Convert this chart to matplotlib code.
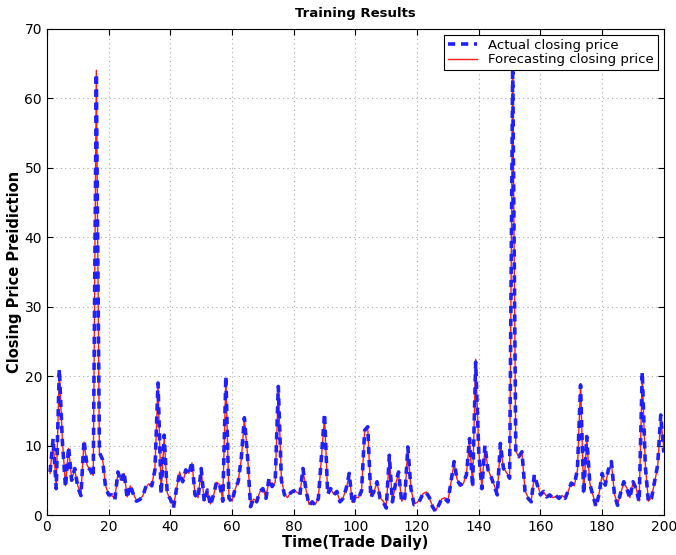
import numpy as np
import matplotlib
matplotlib.use("Agg")
import matplotlib.pyplot as plt

# ============================================================
# Data
# ============================================================
days = list(range(1, 201))

actual_price = [
    6.2, 11.0, 3.8, 21.0, 10.5, 4.0, 9.8, 5.0, 6.7, 4.0,
    2.8, 10.8, 7.0, 6.5, 5.5, 63.5, 9.0, 8.0, 4.0, 2.9,
    2.9, 2.2, 6.2, 4.8, 6.2, 2.4, 4.3, 3.0, 2.0, 2.2,
    2.6, 4.0, 4.6, 4.2, 6.5, 19.0, 3.0, 11.5, 3.0, 2.3,
    1.0, 3.8, 6.0, 4.8, 6.5, 5.8, 7.7, 2.9, 2.4, 6.7,
    1.9, 3.6, 1.4, 2.9, 4.8, 4.3, 2.0, 20.0, 2.4, 1.9,
    3.8, 4.8, 8.2, 14.0, 8.6, 1.2, 2.4, 1.9, 3.4, 3.8,
    2.4, 5.3, 4.1, 4.8, 18.5, 5.0, 2.9, 2.6, 3.2, 3.5,
    3.2, 2.9, 6.7, 3.5, 1.4, 1.9, 1.4, 2.4, 8.6, 14.6,
    3.0, 3.8, 2.9, 3.4, 1.9, 2.4, 3.8, 6.0, 1.6, 2.7,
    2.4, 3.5, 12.2, 12.7, 2.5, 3.4, 4.8, 2.4, 1.9, 1.0,
    8.6, 1.9, 4.5, 6.2, 1.9, 2.4, 9.8, 3.8, 1.5, 1.7,
    2.2, 3.2, 3.2, 2.5, 1.2, 0.5, 1.4, 2.4, 2.4, 1.9,
    4.8, 7.7, 5.0, 4.3, 4.6, 5.8, 11.0, 4.0, 22.0, 9.0,
    3.8, 10.0, 6.5, 5.5, 4.2, 2.9, 10.3, 6.7, 6.2, 5.3,
    64.5, 9.0, 8.4, 9.1, 3.4, 2.4, 1.9, 5.8, 4.3, 2.9,
    3.4, 2.6, 2.9, 2.4, 2.8, 2.4, 2.9, 2.4, 3.5, 4.6,
    4.3, 6.7, 18.7, 3.0, 11.3, 4.5, 2.8, 1.2, 3.0, 6.0,
    4.3, 6.5, 7.7, 2.9, 1.4, 3.2, 4.8, 3.8, 2.4, 4.8,
    3.8, 1.9, 20.6, 7.0, 1.9, 2.4, 4.8, 7.2, 14.4, 9.0,
]

forecast_price = [
    6.0, 10.8, 4.0, 20.6, 10.8, 4.2, 9.6, 5.2, 6.5, 4.2,
    3.0, 10.5, 7.2, 6.4, 5.7, 64.0, 8.8, 8.2, 4.2, 3.0,
    2.8, 2.4, 6.0, 5.0, 6.0, 2.6, 4.2, 3.1, 2.1, 2.3,
    2.7, 3.9, 4.5, 4.3, 6.8, 18.6, 3.3, 11.2, 3.2, 2.2,
    1.2, 3.7, 6.2, 4.7, 6.3, 6.0, 7.5, 3.0, 2.5, 6.5,
    2.0, 3.5, 1.6, 2.8, 4.7, 4.4, 2.2, 19.6, 2.6, 2.0,
    3.7, 4.9, 8.0, 13.8, 8.8, 1.4, 2.3, 2.0, 3.3, 3.9,
    2.5, 5.1, 4.2, 4.7, 18.2, 5.2, 3.0, 2.5, 3.3, 3.4,
    3.3, 3.0, 6.5, 3.6, 1.5, 1.8, 1.5, 2.5, 8.4, 14.2,
    3.2, 3.7, 3.0, 3.3, 2.0, 2.5, 3.7, 5.8, 1.8, 2.6,
    2.5, 3.6, 12.0, 12.5, 2.7, 3.3, 4.7, 2.5, 2.0, 1.1,
    8.4, 2.0, 4.4, 6.0, 2.0, 2.5, 9.6, 3.9, 1.6, 1.8,
    2.3, 3.1, 3.3, 2.4, 1.3, 0.6, 1.5, 2.3, 2.5, 2.0,
    4.7, 7.5, 5.1, 4.4, 4.5, 5.9, 10.8, 4.2, 22.4, 9.2,
    4.0, 9.8, 6.6, 5.4, 4.3, 3.0, 10.1, 6.8, 6.1, 5.4,
    64.3, 9.2, 8.3, 9.0, 3.5, 2.5, 2.0, 5.6, 4.4, 3.0,
    3.3, 2.7, 2.8, 2.5, 2.7, 2.5, 2.8, 2.5, 3.4, 4.7,
    4.2, 6.5, 18.9, 3.2, 11.0, 4.6, 2.9, 1.3, 3.1, 5.8,
    4.4, 6.3, 7.5, 3.0, 1.5, 3.1, 4.7, 3.9, 2.5, 4.7,
    3.9, 2.0, 20.2, 7.2, 2.0, 2.5, 4.7, 7.0, 13.8, 9.6,
]

# ============================================================
# Figure
# ============================================================
fig = plt.figure(figsize=(6.76, 5.55), dpi=100)
ax = fig.add_axes([0.0695, 0.072, 0.9125, 0.8766])

ax.plot(days, actual_price, color="#2020ff", linestyle="--", dashes=(2.0, 1.6),
        linewidth=2.6, label="Actual closing price", zorder=3)
ax.plot(days, forecast_price, color="#ff1a1a", linewidth=1.0,
        label="Forecasting closing price", zorder=2)

ax.set_xlim(0, 200)
ax.set_ylim(0, 70)
ax.set_xticks(np.arange(0, 201, 20))
ax.set_yticks(np.arange(0, 71, 10))
ax.tick_params(direction="in", top=True, right=True, labelsize=10, length=4)
ax.grid(True, linestyle=(0, (1, 3)), color="#aaaaaa", linewidth=0.8)

ax.set_title("Training Results", fontsize=9.5, fontweight="bold", pad=8)
ax.set_xlabel("Time(Trade Daily)", fontsize=10.5, fontweight="bold", labelpad=1)
ax.set_ylabel("Closing Price Preidiction", fontsize=10.5, fontweight="bold", labelpad=2)

leg = ax.legend(loc="upper right", fontsize=9.5, fancybox=False, framealpha=1,
                edgecolor="black", borderpad=0.3, handlelength=2.2,
                labelspacing=0.1, borderaxespad=0,
                bbox_to_anchor=(0.99, 0.987))
leg.get_frame().set_linewidth(0.8)

fig.savefig("out.png", dpi=100)
